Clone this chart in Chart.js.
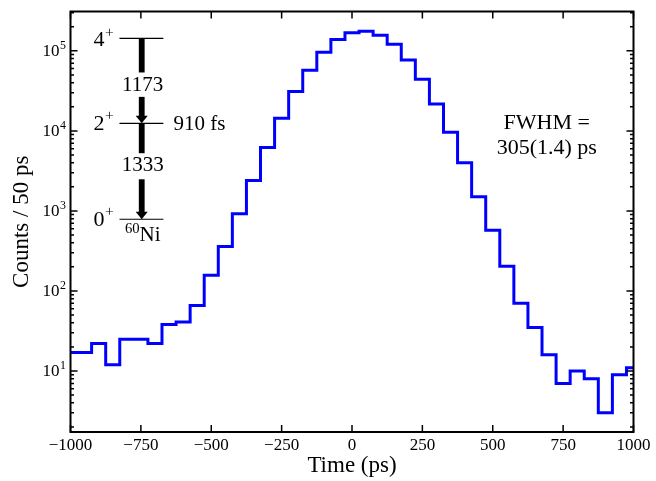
<!DOCTYPE html>
<html>
<head>
<meta charset="utf-8">
<script src="https://cdn.jsdelivr.net/npm/chart.js@4/dist/chart.umd.min.js"></script>
<style>
  html, body { margin:0; padding:0; background:#fff; }
  canvas { display:block; }
</style>
</head>
<body>
<canvas id="chart" width="656" height="481"></canvas>
<script>
// ===== Data =====
// bin centres (ps), 50 ps bins
const binCenters = [
  -1000, -950, -900, -850, -800, -750, -700, -650, -600, -550,
  -500, -450, -400, -350, -300, -250, -200, -150, -100, -50,
  0, 50, 100, 150, 200, 250, 300, 350, 400, 450,
  500, 550, 600, 650, 700, 750, 800, 850, 900, 950, 1000
];
const counts = [
  17, 17, 22, 12, 25, 25, 22, 38, 41, 66,
  157, 360, 920, 2400, 6200, 14400, 31000, 57000, 96000, 139000,
  168000, 176000, 157000, 121000, 77000, 44000, 21600, 9600, 4000, 1500,
  575, 204, 70, 35, 16, 7, 10, 8, 3, 9, 11
];
const xTicks = [-1000, -750, -500, -250, 0, 250, 500, 750, 1000];
const yDecades = [10, 100, 1000, 10000, 100000];
const xRange = [-1000, 1000];
const yRange = [1.73, 3.1e5];

// ===== Style =====
const SERIF = '"Liberation Serif", "DejaVu Serif", serif';
const fnt = (size)=>`${size}px ${SERIF}`;
const minus = (v)=>String(v).replace('-', '\u2212');

// text with a raised suffix, e.g. 10^5, 4^+
function supText(ctx, base, sup, x, y, size, align){
  ctx.font = fnt(size);
  const wb = ctx.measureText(base).width;
  ctx.font = fnt(size*0.7);
  const ws = ctx.measureText(sup).width;
  let x0 = x;
  if (align==='right') x0 = x - wb - ws;
  else if (align==='center') x0 = x - (wb+ws)/2;
  ctx.textAlign = 'left'; ctx.textBaseline = 'middle';
  ctx.font = fnt(size);
  ctx.fillText(base, x0, y);
  ctx.font = fnt(size*0.7);
  ctx.fillText(sup, x0+wb+0.5, y - size*0.36);
}
// same, superscript first (isotope)
function preSupText(ctx, sup, base, x, y, size){
  ctx.font = fnt(size*0.7);
  const ws = ctx.measureText(sup).width;
  ctx.font = fnt(size);
  const wb = ctx.measureText(base).width;
  const x0 = x - (wb+ws)/2;
  ctx.textAlign='left'; ctx.textBaseline='middle';
  ctx.font = fnt(size*0.7);
  ctx.fillText(sup, x0, y - size*0.3);
  ctx.font = fnt(size);
  ctx.fillText(base, x0+ws, y);
}

// ===== Frame, inward ticks, y labels, level scheme =====
const framePlugin = {
  id:'frame',
  afterDraw(chart){
    const {ctx, chartArea:a, scales:{x, y}} = chart;
    ctx.save();
    ctx.strokeStyle = '#000'; ctx.fillStyle = '#000';

    // ticks
    ctx.lineWidth = 1.5;
    ctx.beginPath();
    x.ticks.forEach(t=>{
      const px = x.getPixelForValue(t.value);
      ctx.moveTo(px, a.bottom); ctx.lineTo(px, a.bottom-7);
      ctx.moveTo(px, a.top); ctx.lineTo(px, a.top+7);
    });
    for (let k=0; k<=6; k++){
      for (let m=1; m<=9; m++){
        const v = m*Math.pow(10,k);
        if (v < y.min || v > y.max) continue;
        const py = y.getPixelForValue(v);
        const len = m===1 ? 7 : 3.5;
        ctx.moveTo(a.left, py); ctx.lineTo(a.left+len, py);
        ctx.moveTo(a.right, py); ctx.lineTo(a.right-len, py);
      }
    }
    ctx.stroke();

    // frame
    ctx.lineWidth = 2;
    ctx.strokeRect(a.left, a.top, a.right-a.left, a.bottom-a.top);

    // y tick labels 10^k
    y.ticks.forEach(t=>{
      const py = y.getPixelForValue(t.value);
      supText(ctx, '10', String(Math.round(Math.log10(t.value))), a.left-5, py+1, 17, 'right');
    });

    // level scheme (axes fractions)
    const W = a.right-a.left, H = a.bottom-a.top;
    const fx = f=>a.left + f*W, fy = f=>a.top + f*H;
    const lx0 = fx(0.087), lx1 = fx(0.165), ax = fx(0.1265);
    const y4 = fy(0.064), y2 = fy(0.266), y0 = fy(0.494);

    ctx.lineWidth = 1.2;
    ctx.beginPath();
    [y4, y2, y0].forEach(v=>{ ctx.moveTo(lx0, v); ctx.lineTo(lx1, v); });
    ctx.stroke();

    const bar = (ya, yb)=>ctx.fillRect(ax-2.9, ya, 5.8, yb-ya);
    const head = (tip)=>{
      ctx.beginPath();
      ctx.moveTo(ax-6, tip-7.5); ctx.lineTo(ax+6, tip-7.5); ctx.lineTo(ax, tip);
      ctx.closePath(); ctx.fill();
    };
    bar(y4, fy(0.145)); bar(fy(0.203), y2-6); head(y2);
    bar(y2, fy(0.337)); bar(fy(0.399), y0-6); head(y0);

    ctx.textAlign='center'; ctx.textBaseline='middle'; ctx.font = fnt(21);
    ctx.fillText('1173', ax+1, fy(0.175));
    ctx.fillText('1333', ax+1, fy(0.367));
    ctx.textAlign='left';
    ctx.fillText('910 fs', fx(0.183), y2+1);

    supText(ctx, '4', '+', fx(0.076), y4+2, 22, 'right');
    supText(ctx, '2', '+', fx(0.076), y2+1, 22, 'right');
    supText(ctx, '0', '+', fx(0.076), y0+1, 22, 'right');
    preSupText(ctx, '60', 'Ni', ax+1, fy(0.533), 21);

    // resolution
    ctx.textAlign='center'; ctx.font = fnt(22);
    ctx.fillText('FWHM =', fx(0.846), fy(0.266));
    ctx.fillText('305(1.4) ps', fx(0.846), fy(0.326));
    ctx.restore();
  }
};

// ===== Chart =====
const points = binCenters.map((c,i)=>({x:c, y:counts[i]}));

new Chart(document.getElementById('chart'), {
  type:'line',
  data:{
    datasets:[{
      data: points,
      stepped:'middle',
      borderColor:'#0000ff',
      borderWidth:3,
      borderJoinStyle:'miter',
      pointRadius:0,
      fill:false
    }]
  },
  options:{
    responsive:false,
    animation:false,
    devicePixelRatio:1,
    layout:{ padding:{ top:11.5, right:22.5, left:0, bottom:0 } },
    plugins:{ legend:{display:false}, tooltip:{enabled:false} },
    scales:{
      x:{
        type:'linear', min:xRange[0], max:xRange[1],
        afterBuildTicks:(s)=>{ s.ticks = xTicks.map(v=>({value:v})); },
        afterFit:(s)=>{ s.height = 49; },
        ticks:{ font:{family:SERIF, size:17}, color:'#000', padding:3, maxRotation:0,
                callback:(v)=>minus(v) },
        grid:{ display:false, drawTicks:false },
        border:{ display:false },
        title:{ display:true, text:'Time (ps)', color:'#000',
                font:{family:SERIF, size:23}, padding:{top:0, bottom:1} }
      },
      y:{
        type:'logarithmic', min:yRange[0], max:yRange[1],
        afterBuildTicks:(s)=>{ s.ticks = yDecades.map(v=>({value:v})); },
        afterFit:(s)=>{ s.width = 70.5; },
        ticks:{ display:false },
        grid:{ display:false, drawTicks:false },
        border:{ display:false },
        title:{ display:true, text:'Counts / 50 ps', color:'#000',
                font:{family:SERIF, size:23}, padding:{top:8, bottom:0} }
      }
    }
  },
  plugins:[framePlugin]
});
</script>
</body>
</html>
